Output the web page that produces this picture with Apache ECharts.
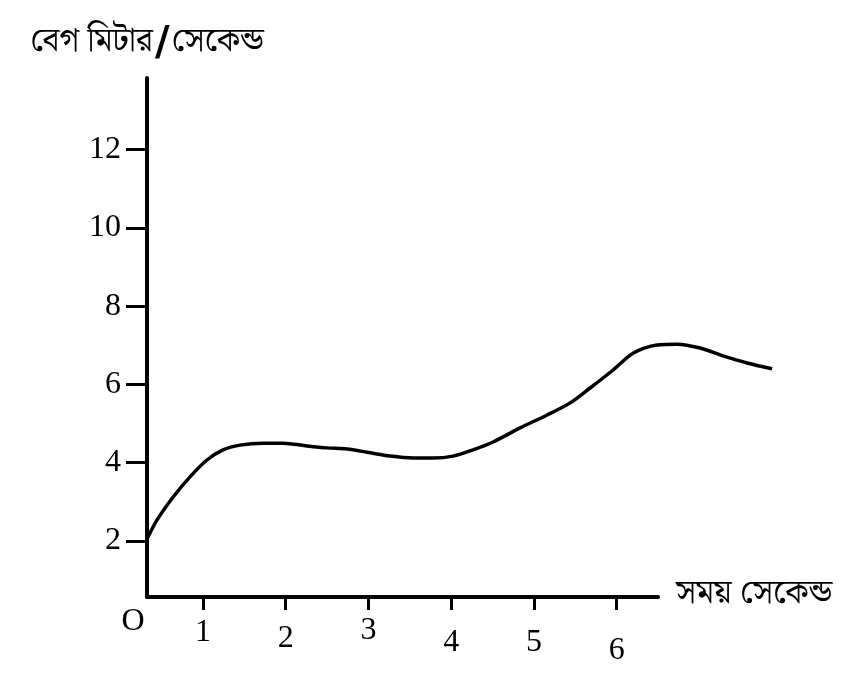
<!DOCTYPE html>
<html>
<head>
<meta charset="utf-8">
<script src="https://cdn.jsdelivr.net/npm/echarts@6/dist/echarts.min.js"></script>
<style>
html,body{margin:0;padding:0;background:#fff;}
#chart{width:860px;height:673px;}
</style>
</head>
<body>
<div id="chart"></div>
<script>
// Data
const timeValues  = [0.323, 0.445, 0.637, 0.843, 1.048, 1.242, 1.447, 1.725, 1.967, 2.258, 2.499, 2.741, 2.983, 3.261, 3.539, 3.781, 4.023, 4.265, 4.506, 4.833, 5.160, 5.438, 5.679, 5.958, 6.199, 6.489, 6.731, 7.009, 7.287, 7.577, 7.879];
const speedValues = [2.05, 2.54, 3.12, 3.64, 4.07, 4.33, 4.45, 4.50, 4.50, 4.43, 4.38, 4.35, 4.27, 4.17, 4.12, 4.12, 4.17, 4.33, 4.53, 4.89, 5.22, 5.53, 5.91, 6.37, 6.80, 7.01, 7.03, 6.93, 6.73, 6.55, 6.40];
const xTickLabels = [1, 2, 3, 4, 5, 6];
const yTickLabels = [2, 4, 6, 8, 10, 12];
const xAxisTitle = 'সময় সেকেন্ড';
const yAxisTitleParts = ['বেগ মিটার', '/', 'সেকেন্ড'];
const originLabel = 'O';

const bnFont = "'Noto Serif Bengali','Noto Sans Bengali','Lohit Bengali','Mukti','Vrinda','Noto Sans',sans-serif";
const serif = "'Liberation Serif','Times New Roman',serif";

// layout
const W = 860, H = 673;
const gridLeft = 147, gridTop = 78, gridBottom = 76, axisRight = 202;
const xMin = 0.323, xAxisMax = 6.5, xDataMax = 8.0;
const yMin = 0.57, yMax = 13.83;
const pxPerX = (W - gridLeft - axisRight) / (xAxisMax - xMin);
const dataRight = W - gridLeft - (xDataMax - xMin) * pxPerX;

// slight hand-drawn offsets of the x tick labels (style only)
const xLabelPad = [0, 6, -2, 10, 10, 18];

const chart = echarts.init(document.getElementById('chart'), null, {renderer: 'canvas'});
const option = {
  backgroundColor: '#fff',
  animation: false,
  grid: [
    {left: gridLeft, right: axisRight, top: gridTop, bottom: gridBottom, containLabel: false},
    {left: gridLeft, right: dataRight, top: gridTop, bottom: gridBottom, containLabel: false}
  ],
  xAxis: [{
    gridIndex: 0,
    type: 'value',
    min: xMin,
    max: xAxisMax,
    name: xAxisTitle,
    nameLocation: 'end',
    nameGap: 18,
    nameTextStyle: {fontFamily: bnFont, fontSize: 33, color: '#000', verticalAlign: 'middle', padding: [0, 0, 6, 0]},
    splitLine: {show: false},
    axisLine: {lineStyle: {color: '#000', width: 4}},
    axisTick: {customValues: xTickLabels, length: 13, lineStyle: {color: '#000', width: 3}},
    axisLabel: {
      customValues: xTickLabels,
      margin: 20,
      color: '#000',
      formatter: (v) => '{p' + xTickLabels.indexOf(v) + '|' + v + '}',
      rich: Object.fromEntries(xLabelPad.map((p, i) => ['p' + i, {
        fontFamily: serif, fontSize: 32, color: '#000', padding: [p, 0, 0, 0]
      }]))
    }
  }, {
    gridIndex: 1,
    type: 'value',
    min: xMin,
    max: xDataMax,
    show: false
  }],
  yAxis: [{
    gridIndex: 0,
    type: 'value',
    min: yMin,
    max: yMax,
    name: yAxisTitleParts.map((p, i) => i === 1 ? '{s|' + p + '}' : '{a|' + p + '}').join(''),
    nameLocation: 'end',
    nameGap: 13,
    nameTextStyle: {
      color: '#000',
      rich: {
        a: {fontFamily: bnFont, fontSize: 33, color: '#000'},
        s: {fontFamily: "'DejaVu Sans',sans-serif", fontSize: 40, fontWeight: 'bold', color: '#000', padding: [0, 2, 0, 2]}
      }
    },
    splitLine: {show: false},
    axisLine: {lineStyle: {color: '#000', width: 4}},
    axisTick: {customValues: yTickLabels, length: 21, lineStyle: {color: '#000', width: 3}},
    axisLabel: {customValues: yTickLabels, margin: 26, fontFamily: serif, fontSize: 32, color: '#000'}
  }, {
    gridIndex: 1,
    type: 'value',
    min: yMin,
    max: yMax,
    show: false
  }],
  series: [{
    type: 'line',
    xAxisIndex: 1,
    yAxisIndex: 1,
    data: timeValues.map((t, i) => [t, speedValues[i]]),
    smooth: 0.3,
    showSymbol: false,
    lineStyle: {color: '#000', width: 3.5}
  }]
};
chart.setOption(option);
const o = chart.convertToPixel({gridIndex: 0}, [xMin, yMin]);
chart.setOption({
  graphic: [{
    type: 'text',
    x: o[0] - 14,
    y: o[1] + 25,
    style: {text: originLabel, font: "32px 'Liberation Serif'", fill: '#000', align: 'center', verticalAlign: 'middle'}
  }]
});
</script>
</body>
</html>
